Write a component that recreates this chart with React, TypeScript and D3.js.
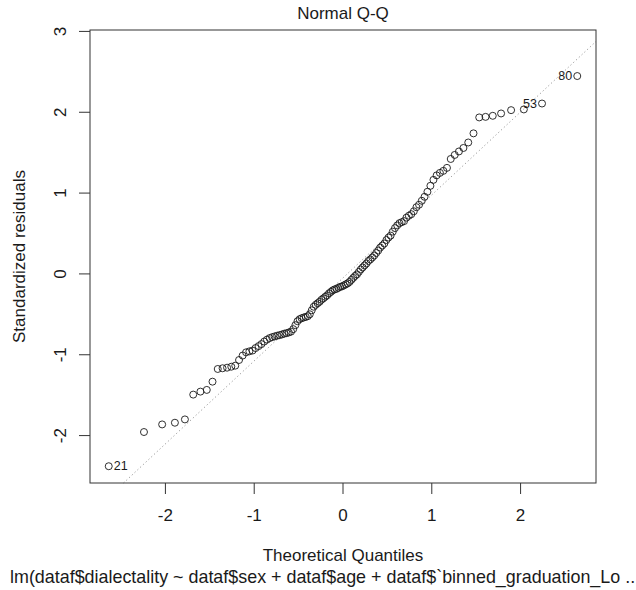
import * as d3 from "d3";

// sorted standardized residuals (n = 120)
const residuals = [
  -2.379, -1.956, -1.862, -1.841, -1.8,
  -1.493, -1.456, -1.435, -1.333, -1.176,
  -1.167, -1.16, -1.148, -1.135, -1.065,
  -1.01, -0.97, -0.958, -0.948, -0.917,
  -0.893, -0.868, -0.837, -0.813, -0.794,
  -0.782, -0.773, -0.764, -0.757, -0.749,
  -0.739, -0.733, -0.724, -0.714, -0.683,
  -0.634, -0.585, -0.56, -0.548, -0.539,
  -0.532, -0.523, -0.499, -0.45, -0.406,
  -0.382, -0.363, -0.345, -0.32, -0.302,
  -0.283, -0.265, -0.24, -0.222, -0.203,
  -0.191, -0.185, -0.172, -0.16, -0.154,
  -0.142, -0.129, -0.117, -0.099, -0.074,
  -0.049, -0.025, -0.006, 0.025, 0.055,
  0.08, 0.105, 0.129, 0.16, 0.179,
  0.203, 0.228, 0.259, 0.289, 0.326,
  0.351, 0.376, 0.419, 0.45, 0.474,
  0.523, 0.567, 0.6, 0.628, 0.64,
  0.653, 0.696, 0.72, 0.739, 0.775,
  0.825, 0.856, 0.905, 0.954, 1.016,
  1.09, 1.164, 1.219, 1.25, 1.275,
  1.312, 1.422, 1.472, 1.515, 1.558,
  1.626, 1.739, 1.936, 1.943, 1.956,
  1.985, 2.026, 2.035, 2.108, 2.448,
];

// observations flagged with their row id (rank in the sorted residuals)
const idRanks = [1, 119, 120];
const idLabels = ["21", "53", "80"];

const title = "Normal Q-Q";
const xLabel = "Theoretical Quantiles";
const yLabel = "Standardized residuals";
const subCaption =
  "lm(dataf$dialectality ~ dataf$sex + dataf$age + dataf$`binned_graduation_Lo ...";

// inverse normal cdf (Acklam)
function qnorm(p: number) {
  const a = [-39.69683028665376, 220.9460984245205, -275.9285104469687, 138.357751867269, -30.66479806614716, 2.506628277459239];
  const b = [-54.47609879822406, 161.5858368580409, -155.6989798598866, 66.80131188771972, -13.28068155288572];
  const c = [-0.007784894002430293, -0.3223964580411365, -2.400758277161838, -2.549732539343734, 4.374664141464968, 2.938163982698783];
  const d = [0.007784695709041462, 0.3224671290700398, 2.445134137142996, 3.754408661907416];
  const pl = 0.02425;
  if (p < pl) {
    const q = Math.sqrt(-2 * Math.log(p));
    return (((((c[0] * q + c[1]) * q + c[2]) * q + c[3]) * q + c[4]) * q + c[5]) /
      ((((d[0] * q + d[1]) * q + d[2]) * q + d[3]) * q + 1);
  }
  if (p > 1 - pl) {
    const q = Math.sqrt(-2 * Math.log(1 - p));
    return -(((((c[0] * q + c[1]) * q + c[2]) * q + c[3]) * q + c[4]) * q + c[5]) /
      ((((d[0] * q + d[1]) * q + d[2]) * q + d[3]) * q + 1);
  }
  const q = p - 0.5;
  const r = q * q;
  return (((((a[0] * r + a[1]) * r + a[2]) * r + a[3]) * r + a[4]) * r + a[5]) * q /
    (((((b[0] * r + b[1]) * r + b[2]) * r + b[3]) * r + b[4]) * r + 1);
}

const W = 636;
const H = 590;
const box = { left: 90, right: 596, top: 30, bottom: 483 };
const font = "'Liberation Sans', Arial, sans-serif";
const ink = "#1a1a1a";

const App = () => {
  const n = residuals.length;
  const a = n <= 10 ? 3 / 8 : 0.5;
  const theo = residuals.map((_, i) => qnorm((i + 1 - a) / (n + 1 - 2 * a)));

  // R style limits: 4% padding, extra headroom on the y range for the id labels
  const xr = d3.extent(theo) as [number, number];
  const xPad = (xr[1] - xr[0]) * 0.04;
  const yr = d3.extent(residuals) as [number, number];
  yr[1] += (yr[1] - yr[0]) * 0.075;
  const yPad = (yr[1] - yr[0]) * 0.04;

  const x = d3.scaleLinear().domain([xr[0] - xPad, xr[1] + xPad]).range([box.left, box.right]);
  const y = d3.scaleLinear().domain([yr[0] - yPad, yr[1] + yPad]).range([box.bottom, box.top]);

  // qqline through the quartiles
  const yq = [d3.quantile(residuals, 0.25)!, d3.quantile(residuals, 0.75)!];
  const xq = [qnorm(0.25), qnorm(0.75)];
  const slope = (yq[1] - yq[0]) / (xq[1] - xq[0]);
  const icept = yq[0] - slope * xq[0];

  // clip line to box
  const [x0, x1] = x.domain();
  const [y0, y1] = y.domain();
  let la = x0, lb = x1;
  if (icept + slope * la < y0) la = (y0 - icept) / slope;
  if (icept + slope * lb > y1) lb = (y1 - icept) / slope;

  const xTicks = x.ticks(5);
  const yTicks = y.ticks(6);
  const r = 3.5;
  const cx = (box.left + box.right) / 2;
  const cy = (box.top + box.bottom) / 2;

  return (
    <svg width={W} height={H} style={{ position: "absolute", left: 0, top: 0 }} fontFamily={font}>
      <rect width={W} height={H} fill="white" />
      <text x={cx} y={13} textAnchor="middle" dominantBaseline="central" fontSize={17} fill={ink}>
        {title}
      </text>

      <line
        x1={x(la)} y1={y(icept + slope * la)}
        x2={x(lb)} y2={y(icept + slope * lb)}
        stroke="#999" strokeWidth={1} strokeDasharray="1.2 2.6"
      />

      {residuals.map((v, i) => (
        <circle key={i} cx={x(theo[i])} cy={y(v)} r={r} fill="none" stroke={ink} strokeWidth={0.9} />
      ))}

      {idRanks.map((rank, k) => {
        const px = x(theo[rank - 1]);
        const py = y(residuals[rank - 1]);
        const right = theo[rank - 1] < 0;
        return (
          <text
            key={k}
            x={right ? px + r + 1.5 : px - r - 1.5}
            y={py}
            textAnchor={right ? "start" : "end"}
            dominantBaseline="central"
            fontSize={12.5}
            fill={ink}
          >
            {idLabels[k]}
          </text>
        );
      })}

      <rect
        x={box.left} y={box.top} width={box.right - box.left} height={box.bottom - box.top}
        fill="none" stroke="#333" strokeWidth={1}
      />

      {/* x axis */}
      {xTicks.map((t) => (
        <g key={t}>
          <line x1={x(t)} x2={x(t)} y1={box.bottom} y2={box.bottom + 11} stroke="#333" />
          <text x={x(t)} y={515} textAnchor="middle" dominantBaseline="central" fontSize={17} fill={ink}>
            {t}
          </text>
        </g>
      ))}

      {/* y axis */}
      {yTicks.map((t) => (
        <g key={t}>
          <line x1={box.left - 11} x2={box.left} y1={y(t)} y2={y(t)} stroke="#333" />
          <text
            transform={`translate(60,${y(t)}) rotate(-90)`}
            textAnchor="middle" dominantBaseline="central" fontSize={17} fill={ink}
          >
            {t}
          </text>
        </g>
      ))}

      <text x={cx} y={555} textAnchor="middle" dominantBaseline="central" fontSize={17} fill={ink}>
        {xLabel}
      </text>
      {/* the reference crop cuts this caption at the right edge */}
      <text x={10} y={577} textAnchor="start" dominantBaseline="central" fontSize={17.9} fill={ink}>
        {subCaption}
      </text>
      <text
        transform={`translate(19,${cy}) rotate(-90)`}
        textAnchor="middle" dominantBaseline="central" fontSize={17} fill={ink}
      >
        {yLabel}
      </text>
    </svg>
  );
};

export default App;
